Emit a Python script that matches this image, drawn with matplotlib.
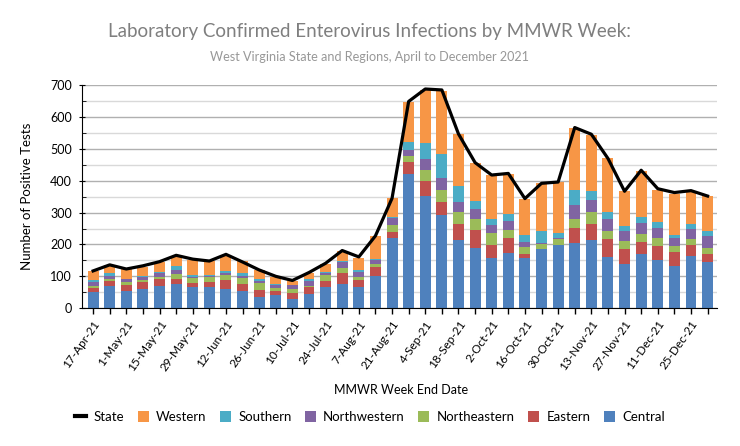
import matplotlib.pyplot as plt
import numpy as np
from matplotlib.lines import Line2D
from matplotlib.patches import Patch
from matplotlib.ticker import MultipleLocator

plt.rcParams["font.family"] = ["Lato", "DejaVu Sans"]

weeks = [
    "17-Apr-21", "24-Apr-21", "1-May-21", "8-May-21", "15-May-21", "22-May-21",
    "29-May-21", "5-Jun-21", "12-Jun-21", "19-Jun-21", "26-Jun-21", "3-Jul-21",
    "10-Jul-21", "17-Jul-21", "24-Jul-21", "31-Jul-21", "7-Aug-21", "14-Aug-21",
    "21-Aug-21", "28-Aug-21", "4-Sep-21", "11-Sep-21", "18-Sep-21", "25-Sep-21",
    "2-Oct-21", "9-Oct-21", "16-Oct-21", "23-Oct-21", "30-Oct-21", "6-Nov-21",
    "13-Nov-21", "20-Nov-21", "27-Nov-21", "4-Dec-21", "11-Dec-21", "18-Dec-21",
    "25-Dec-21", "1-Jan-22",
]

central = [51, 71, 54, 60, 71, 77, 67, 67, 60, 54, 35, 40, 29, 46, 65, 77, 67, 102, 221,
           421, 352, 292, 215, 190, 158, 173, 158, 185, 198, 204, 215, 160, 140, 171,
           152, 133, 165, 146]
eastern = [12, 14, 19, 23, 21, 15, 12, 16, 30, 22, 22, 14, 20, 19, 20, 33, 22, 27, 19,
           37, 46, 41, 50, 56, 40, 47, 13, 1, 1, 48, 50, 57, 45, 37, 44, 44, 33, 25]
northeastern = [7, 7, 10, 7, 7, 16, 16, 16, 14, 19, 22, 10, 11, 6, 19, 17, 9, 11, 20,
                21, 35, 38, 37, 33, 37, 25, 21, 14, 19, 27, 37, 25, 25, 25, 25, 19, 19, 19]
northwestern = [13, 10, 8, 9, 12, 13, 3, 3, 7, 7, 6, 9, 12, 14, 6, 19, 17, 11, 23,
                17, 34, 39, 31, 31, 25, 28, 15, 5, 3, 44, 38, 37, 32, 34, 31, 25, 31, 37]
southern = [5, 8, 2, 3, 4, 12, 6, 2, 6, 8, 7, 3, 2, 7, 4, 1, 6, 3, 4,
            25, 50, 73, 50, 25, 19, 23, 22, 38, 15, 48, 27, 23, 16, 18, 19, 8, 17, 15]
western = [28, 24, 29, 28, 30, 31, 47, 45, 50, 38, 28, 23, 11, 20, 25, 31, 38, 72, 58,
           127, 167, 199, 165, 122, 139, 126, 113, 150, 159, 195, 178, 168, 109, 147,
           101, 131, 102, 109]
state = [117, 136, 123, 133, 146, 166, 154, 148, 169, 145, 120, 100, 87, 112, 141, 181,
         161, 227, 345, 649, 688, 685, 547, 457, 418, 423, 344, 392, 396, 567, 546, 470,
         367, 433, 375, 363, 369, 352]

regions = [
    ("Central", central, "#4F81BD"),
    ("Eastern", eastern, "#C0504D"),
    ("Northeastern", northeastern, "#9BBB59"),
    ("Northwestern", northwestern, "#8064A2"),
    ("Southern", southern, "#4BACC6"),
    ("Western", western, "#F79646"),
]

fig = plt.figure(figsize=(7.4, 4.46), dpi=100)
ax = fig.add_axes([0.111, 0.309, 0.858, 0.500])

x = np.arange(len(weeks))
bottom = np.zeros(len(weeks))
for name, vals, color in regions:
    ax.bar(x, vals, 0.66, bottom=bottom, color=color, label=name, zorder=2)
    bottom += np.array(vals)

ax.plot(x, state, color="black", lw=2.3, zorder=3, label="State")

ax.set_ylim(0, 700)
ax.set_xlim(-0.66, len(weeks) - 0.43)
ax.yaxis.set_major_locator(MultipleLocator(100))
ax.yaxis.set_minor_locator(MultipleLocator(50))
ax.grid(axis="y", which="major", color="#b0b0b0", lw=1, zorder=0)
ax.grid(axis="y", which="minor", color="#d9d9d9", lw=1, zorder=0)
ax.set_axisbelow(True)

ax.set_xticks(x)
ax.set_xticklabels([w if i % 2 == 0 else "" for i, w in enumerate(weeks)],
                   rotation=55, ha="right", rotation_mode="anchor", fontsize=8.5)
ax.tick_params(axis="x", length=4, width=1, color="black")
ax.tick_params(axis="y", which="major", direction="inout", length=5, labelsize=9, pad=5)
ax.tick_params(axis="y", which="minor", direction="in", length=3)

for s in ["top", "right"]:
    ax.spines[s].set_visible(False)
ax.spines["left"].set_color("black")
ax.spines["bottom"].set_color("black")

ax.set_ylabel("Number of Positive Tests", fontsize=9.5, labelpad=12)
fig.text(0.542, 0.126, "MMWR Week End Date", ha="center", va="center", fontsize=9)

fig.text(0.500, 0.929, "Laboratory Confirmed Enterovirus Infections by MMWR Week:",
         ha="center", va="center", fontsize=13.5, color="#7f7f7f")
fig.text(0.500, 0.872, "West Virginia State and Regions, April to December 2021",
         ha="center", va="center", fontsize=9.1, color="#989898")

handles = [Line2D([0], [0], color="black", lw=3)]
labels = ["State"]
for name, vals, color in reversed(regions):
    handles.append(Patch(facecolor=color))
    labels.append(name)
fig.legend(handles, labels, loc="center", bbox_to_anchor=(0.50, 0.065), ncol=7,
           frameon=False, fontsize=9.5, handlelength=0.85, handleheight=0.85,
           columnspacing=1.0, handletextpad=0.55)

fig.savefig("out.png", dpi=100)
